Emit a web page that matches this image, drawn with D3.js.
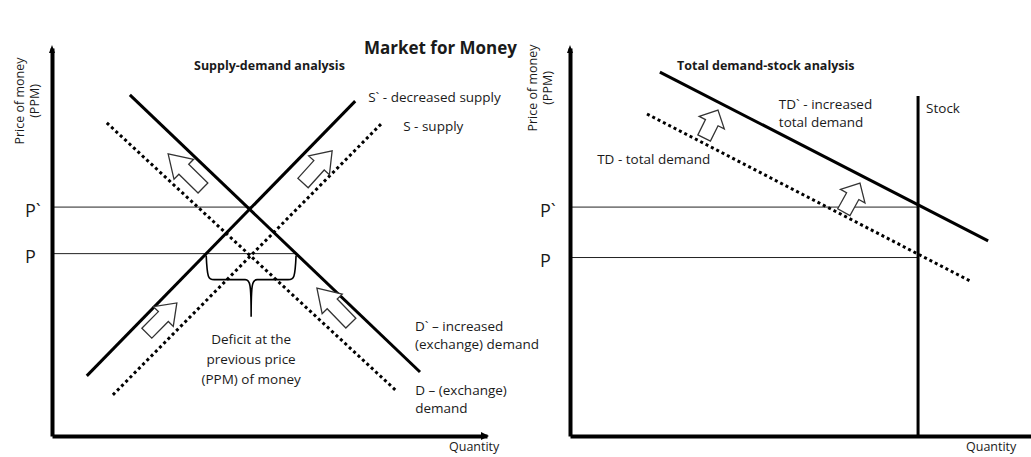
<!DOCTYPE html>
<html>
<head>
<meta charset="utf-8">
<script src="https://cdn.jsdelivr.net/npm/d3@7"></script>
<style>
  body { margin: 0; background: #fff; }
  text { font-family: "Open Sans", Lato, sans-serif; fill: #1a1a1a; }
</style>
</head>
<body>
<svg id="chart"></svg>
<script>
const title = "Market for Money";
const panelTitles = ["Supply-demand analysis", "Total demand-stock analysis"];
const priceNames = ["P`", "P"];

// supply-demand panel, quantity and price both on a 0-10 scale
const sdPrices = [5.9, 4.7];
const sdCurves = [
  { name: "S`", solid: true,  q: [0.80, 6.97], p: [1.55, 8.63] },
  { name: "S",  solid: false, q: [1.40, 7.59], p: [1.06, 8.07] },
  { name: "D`", solid: true,  q: [1.79, 8.46], p: [8.79, 1.65] },
  { name: "D",  solid: false, q: [1.26, 7.89], p: [8.07, 1.19] }
];
const sdCurveLabels = [
  ["S` - decreased supply"],
  ["S - supply"],
  ["D` \u2013 increased", "(exchange) demand"],
  ["D \u2013 (exchange)", "demand"]
];
// shift arrows: [qTail, pTail, qTip, pTip]
const sdShifts = [
  [3.47, 6.39, 2.67, 7.27],
  [5.77, 6.52, 6.44, 7.35],
  [2.18, 2.65, 2.87, 3.43],
  [6.87, 2.91, 6.09, 3.81]
];
const deficitLabel = ["Deficit at the", "previous price", "(PPM) of money"];

// total demand-stock panel
const tdPrices = [5.9, 4.6];
const tdCurves = [
  { name: "TD`", solid: true,  q: [1.95, 9.07], p: [9.38, 5.03] },
  { name: "TD",  solid: false, q: [1.67, 8.72], p: [8.30, 3.97] }
];
const tdCurveLabels = [["TD` - increased", "total demand"], ["TD - total demand"]];
const stock = { q: 7.55, top: 8.76 };
const tdShifts = [
  [2.91, 7.68, 3.21, 8.40],
  [5.94, 5.77, 6.29, 6.52]
];

const width = 1031;
const height = 457;

const svg = d3.select('#chart')
  .attr('width', width)
  .attr('height', height);

svg.append('text')
  .attr('x', 517)
  .attr('y', 54)
  .attr('text-anchor', 'end')
  .attr('font-family', 'Lato, sans-serif')
  .attr('font-size', 17)
  .attr('font-weight', 'bold')
  .text(title);

// straight line between two data points
function segment(g, x, y, q, p, solid) {
  return g.append('line')
    .attr('x1', x(q[0])).attr('y1', y(p[0]))
    .attr('x2', x(q[1])).attr('y2', y(p[1]))
    .attr('stroke', '#000')
    .attr('stroke-width', 3)
    .attr('stroke-dasharray', solid ? null : '3,3');
}

// quantity where a curve meets a price level
function qAt(c, price) {
  const t = (price - c.p[0]) / (c.p[1] - c.p[0]);
  return c.q[0] + t * (c.q[1] - c.q[0]);
}

// outlined block arrow from tail to tip
function blockArrow(g, x, y, s) {
  const x0 = x(s[0]), y0 = y(s[1]), x1 = x(s[2]), y1 = y(s[3]);
  const len = Math.hypot(x1 - x0, y1 - y0);
  const ang = Math.atan2(y1 - y0, x1 - x0) * 180 / Math.PI;
  const hl = len * 0.45, hs = 7, hh = 14;
  const pts = [[0, -hs], [len - hl, -hs], [len - hl, -hh], [len, 0],
               [len - hl, hh], [len - hl, hs], [0, hs]];
  g.append('path')
    .attr('d', d3.line()(pts) + 'Z')
    .attr('transform', `translate(${x0},${y0}) rotate(${ang})`)
    .attr('fill', '#fff')
    .attr('stroke', '#333')
    .attr('stroke-width', 1.3);
}

function drawPanel(opts) {
  const g = svg.append('g');
  const x = d3.scaleLinear().domain([0, 10]).range(opts.xRange);
  const y = d3.scaleLinear().domain([0, 10]).range([436, 48]);

  // price guide lines, end at the curve/stock they belong to
  opts.prices.forEach((pr, i) => {
    g.append('line')
      .attr('x1', x(0)).attr('x2', x(opts.guideEnd[i]))
      .attr('y1', y(pr)).attr('y2', y(pr))
      .attr('stroke', '#222')
      .attr('stroke-width', 1);
  });

  const yAxis = d3.axisLeft(y)
    .tickValues(opts.prices)
    .tickFormat((d, i) => priceNames[i])
    .tickSize(0);
  const ya = g.append('g')
    .attr('transform', `translate(${opts.xRange[0]},0)`)
    .call(yAxis);
  ya.select('.domain').attr('stroke', '#000').attr('stroke-width', 4);
  ya.selectAll('text')
    .attr('font-family', '"Open Sans", sans-serif')
    .attr('font-size', 18)
    .attr('text-anchor', 'start')
    .attr('x', opts.tickX)
    .attr('dy', '0.5em')
    .attr('fill', '#1a1a1a');

  const xAxis = d3.axisBottom(x).tickValues([]).tickSizeOuter(0);
  const xa = g.append('g')
    .attr('transform', 'translate(0,436)')
    .call(xAxis);
  xa.select('.domain').attr('stroke', '#000').attr('stroke-width', 4);

  // arrow heads on the axes
  const ax = opts.xRange[0];
  g.append('path')
    .attr('d', `M${ax - 3},${53} L${ax},${45} L${ax + 3},${53} Z`)
    .attr('fill', '#000');
  if (opts.xArrow) {
    const ex = opts.xRange[1];
    g.append('path')
      .attr('d', `M${ex - 6},${432} L${ex + 2},${436} L${ex - 6},${440} Z`)
      .attr('fill', '#000');
  }

  // axis titles
  const lab = g.append('text')
    .attr('transform', `translate(${opts.labelX},${opts.labelY}) rotate(-90)`)
    .attr('text-anchor', 'middle')
    .attr('font-size', 12.5)
    .attr('fill', '#333');
  lab.append('tspan').attr('x', 0).attr('y', 0).text('Price of money');
  lab.append('tspan').attr('x', 0).attr('y', 15).text('(PPM)');

  g.append('text')
    .attr('x', opts.qtyX)
    .attr('y', 451)
    .attr('font-size', 12.5)
    .attr('fill', '#333')
    .text('Quantity');

  g.append('text')
    .attr('x', opts.titleX)
    .attr('y', 70)
    .attr('font-size', 12.5)
    .attr('font-weight', 'bold')
    .text(opts.title);

  return { g, x, y };
}

// ---- left: supply-demand analysis
const sdP = sdPrices;
const left = drawPanel({
  xRange: [52, 487],
  prices: sdP,
  guideEnd: [qAt(sdCurves[0], sdP[0]), qAt(sdCurves[2], sdP[1])],
  tickX: -27,
  xArrow: true,
  labelX: 24,
  labelY: 101,
  qtyX: 449,
  titleX: 194,
  title: panelTitles[0]
});

sdCurves.forEach(c => segment(left.g, left.x, left.y, c.q, c.p, c.solid));

const sdLabelOffset = [[13, 1], [21, 8], [-5, -41], [20, 5]];
sdCurves.forEach((c, i) => {
  const t = left.g.append('text')
    .attr('font-size', 13.5)
    .attr('fill', '#222');
  const bx = left.x(c.q[1]) + sdLabelOffset[i][0];
  const by = left.y(c.p[1]) + sdLabelOffset[i][1];
  sdCurveLabels[i].forEach((line, k) => {
    t.append('tspan').attr('x', bx).attr('y', by + k * 18).text(line);
  });
});

sdShifts.forEach(s => blockArrow(left.g, left.x, left.y, s));

// curly brace marking the deficit at the old price P
const bx0 = left.x(qAt(sdCurves[0], sdP[1]));
const bx1 = left.x(qAt(sdCurves[2], sdP[1]));
const by0 = left.y(sdP[1]) + 2;
const bm = (bx0 + bx1) / 2;
const braceMid = by0 + 24, braceTip = by0 + 61;
const brace = d3.path();
brace.moveTo(bx0, by0);
brace.bezierCurveTo(bx0 + 1, braceMid - 2, bx0 + 2, braceMid, bx0 + 8, braceMid);
brace.lineTo(bm - 6, braceMid);
brace.bezierCurveTo(bm - 1, braceMid, bm, braceMid + 4, bm, braceTip);
brace.moveTo(bx1, by0);
brace.bezierCurveTo(bx1 - 1, braceMid - 2, bx1 - 2, braceMid, bx1 - 8, braceMid);
brace.lineTo(bm + 6, braceMid);
brace.bezierCurveTo(bm + 1, braceMid, bm, braceMid + 4, bm, braceTip);
left.g.append('path')
  .attr('d', brace.toString())
  .attr('fill', 'none')
  .attr('stroke', '#000')
  .attr('stroke-width', 1.6);

const defText = left.g.append('text')
  .attr('text-anchor', 'middle')
  .attr('font-size', 13.5)
  .attr('fill', '#222');
deficitLabel.forEach((line, k) => {
  defText.append('tspan').attr('x', bm).attr('y', braceTip + 27 + k * 20).text(line);
});

// ---- right: total demand-stock analysis
const right = drawPanel({
  xRange: [570, 1031],
  prices: tdPrices,
  guideEnd: [stock.q, stock.q],
  tickX: -30,
  xArrow: false,
  labelX: 537,
  labelY: 88,
  qtyX: 966,
  titleX: 677,
  title: panelTitles[1]
});

right.g.append('line')
  .attr('x1', right.x(stock.q)).attr('x2', right.x(stock.q))
  .attr('y1', right.y(stock.top)).attr('y2', right.y(0))
  .attr('stroke', '#000')
  .attr('stroke-width', 3);
right.g.append('text')
  .attr('x', right.x(stock.q) + 8)
  .attr('y', right.y(stock.top) + 17)
  .attr('font-size', 13.5)
  .attr('fill', '#222')
  .text('Stock');

tdCurves.forEach(c => segment(right.g, right.x, right.y, c.q, c.p, c.solid));

// TD` label sits between the two curves, TD label below the dotted curve
const tdLabelAt = [[4.53, 8.42], [0.59, 7.0]];
tdCurves.forEach((c, i) => {
  const t = right.g.append('text')
    .attr('font-size', 13.5)
    .attr('fill', '#222');
  const bx = right.x(tdLabelAt[i][0]);
  const by = right.y(tdLabelAt[i][1]);
  tdCurveLabels[i].forEach((line, k) => {
    t.append('tspan').attr('x', bx).attr('y', by + k * 18).text(line);
  });
});

tdShifts.forEach(s => blockArrow(right.g, right.x, right.y, s));
</script>
</body>
</html>
